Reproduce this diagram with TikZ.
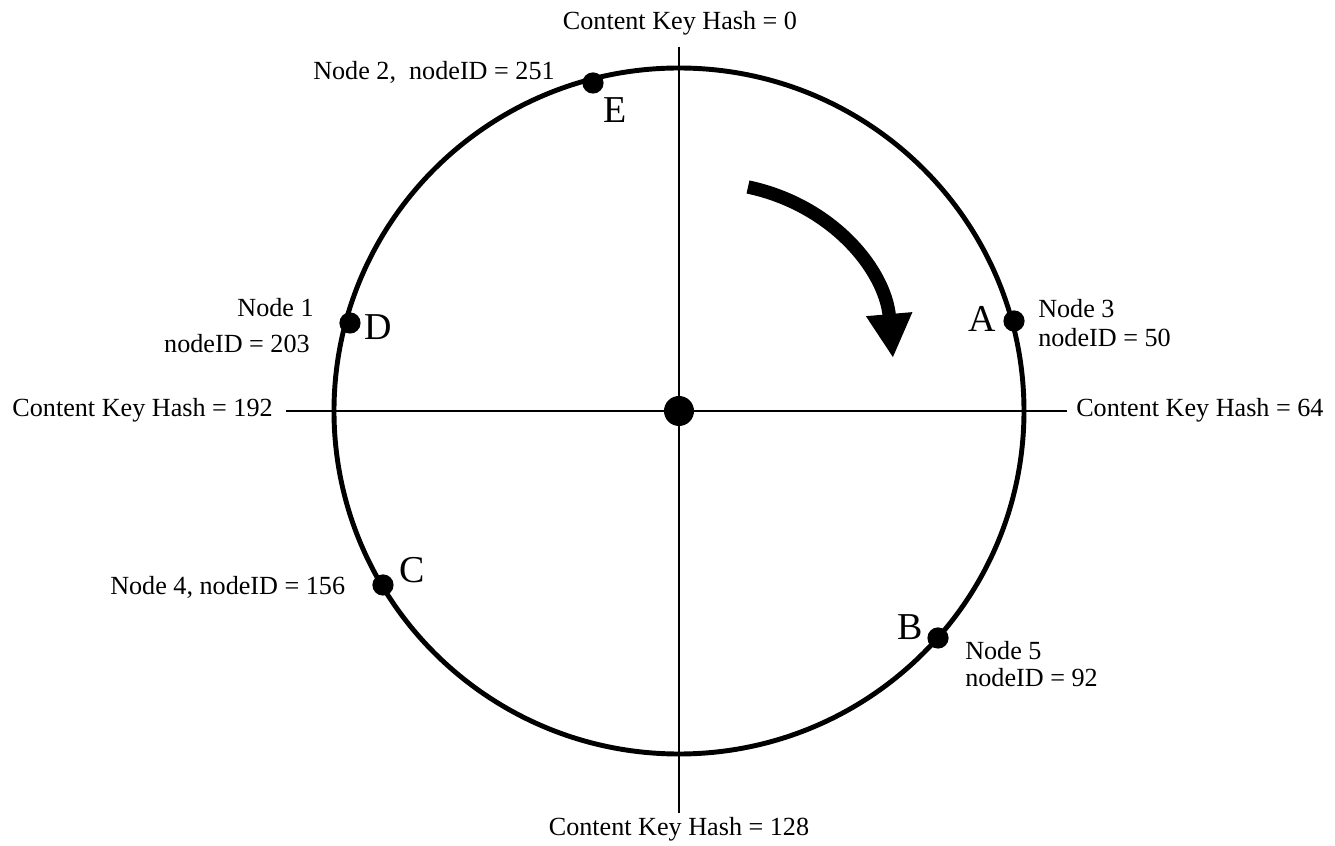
\documentclass[tikz,border=0pt]{standalone}
\usepackage{fontspec}
\setmainfont{Liberation Serif}
\usetikzlibrary{arrows.meta, positioning, calc}

\begin{document}
\begin{tikzpicture}[
    x=0.025cm, y=0.025cm,
    font=\fontsize{18.6}{22}\selectfont,
    ring/.style  ={line width=3.5pt},
    axis/.style  ={line width=0.9pt},
    peer/.style  ={circle, fill, inner sep=0pt, minimum size=0.53cm},
    hub/.style   ={circle, fill, inner sep=0pt, minimum size=0.75cm},
    letter/.style={font=\fontsize{27}{32}\selectfont, anchor=base, inner sep=0pt},
    west/.style  ={anchor=base west, inner sep=0pt},
    east/.style  ={anchor=base east, inner sep=0pt},
    turn/.style  ={line width=9.5pt, -{Triangle[width=1.08cm, length=1.1cm]}}
]
\useasboundingbox (-679,-435) rectangle (656,411);

% Ring and the two hash axes
\draw[ring] (0,0) ellipse [x radius=345, y radius=343];
\coordinate (top) at (0,364);
\coordinate (bot) at (0,-402);
\coordinate (lft) at (-393,0);
\coordinate (rgt) at (388,0);
\draw[axis] (top) -- (bot);
\draw[axis] (lft) -- (rgt);
\node[hub] (hub) at (0,0) {};

\node[anchor=base, inner sep=0pt] (h0)   at (1,381)     {Content Key Hash = 0};
\node[anchor=base, inner sep=0pt] (h128) at (0,-424)    {Content Key Hash = 128};
\node[east] (h192) at (-406,-6) {Content Key Hash = 192};
\node[west] (h64)  at (397,-6)  {Content Key Hash = 64};

% Peers on the ring
\node[peer] (pA) at (335,90)    {};
\node[peer] (pB) at (259,-227)  {};
\node[peer] (pC) at (-296,-174) {};
\node[peer] (pD) at (-329,88)   {};
\node[peer] (pE) at (-86,328)   {};

\node[letter] (lA) at (303,79)    {A};
\node[letter] (lB) at (231,-229)  {B};
\node[letter] (lC) at (-267,-172) {C};
\node[letter] (lD) at (-301,71)   {D};
\node[letter] (lE) at (-64,288)   {E};

% Peer captions
\node[west] (n3)  at (359,93)    {Node 3};
\node[west] (id3) at (359,64)    {nodeID = 50};
\node[west] (n5)  at (286,-249)  {Node 5};
\node[west] (id5) at (286,-276)  {nodeID = 92};
\node[west] (n4)  at (-569,-184) {Node 4, nodeID = 156};
\node[east] (n1)  at (-365,94)   {Node 1};
\node[east] (id1) at (-369,58)   {nodeID = 203};
\node[west] (n2)  at (-366,331)  {Node 2,\ \ nodeID = 251};

% Clockwise direction
\coordinate (cwS) at (69,224);
\coordinate (cwE) at (214,53);
\draw[turn] (cwS) to[out=-12, in=95] (cwE);

\end{tikzpicture}
\end{document}
